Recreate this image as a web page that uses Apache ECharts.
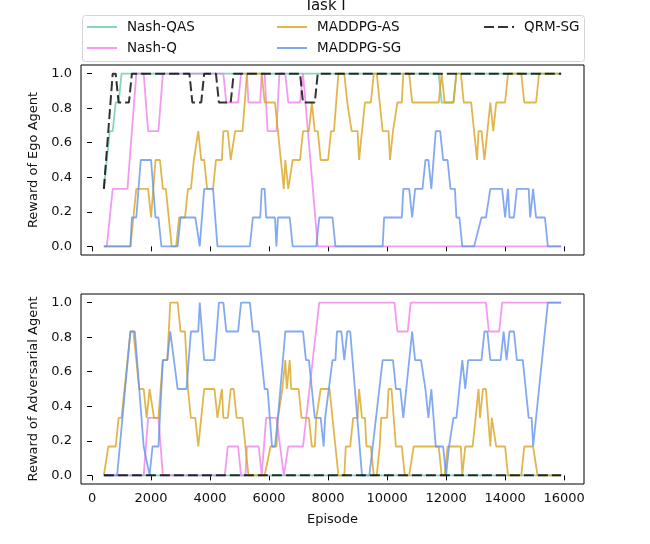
<!DOCTYPE html>
<html>
<head>
<meta charset="utf-8">
<script src="https://cdn.jsdelivr.net/npm/echarts@6/dist/echarts.min.js"></script>
<style>
  html, body { margin: 0; padding: 0; background: #fff; }
  #chart { width: 650px; height: 544px; }
</style>
</head>
<body>
<div id="chart"></div>
<script>
// tick labels
const xTicks = [0, 2000, 4000, 6000, 8000, 10000, 12000, 14000, 16000];
const yTicks = [0, 0.2, 0.4, 0.6, 0.8, 1.0];
const seriesNames = ['Nash-QAS', 'Nash-Q', 'MADDPG-AS', 'MADDPG-SG', 'QRM-SG'];

// [episode, reward] vertices -- Ego agent (top)
const egoNashQAS = [[400,0.333],[500,0.5],[600,0.667],[700,0.667],[800,0.833],[900,0.833],[1000,1],[11750,1],[11850,0.833],[12250,0.833],[12350,1],[15900,1]];
const egoNashQ = [[400,0],[500,0],[700,0.333],[1200,0.333],[1500,1],[1750,1],[1900,0.667],[2250,0.667],[2400,1],[4450,1],[4550,0.833],[4950,0.833],[5050,1],[5250,1],[5300,0.833],[5700,0.833],[5750,1],[5850,1],[5950,0.667],[6250,0.667],[6350,1],[6550,1],[6650,0.833],[7050,0.833],[7150,1],[7200,1],[7650,0],[15900,0]];
const egoMaddpgAS = [[400,0],[1300,0],[1400,0.167],[1500,0.333],[1900,0.333],[2000,0.167],[2150,0.5],[2300,0.5],[2400,0.333],[2500,0.333],[2700,0],[2850,0],[2950,0.167],[3150,0.167],[3250,0.333],[3350,0.333],[3450,0.5],[3500,0.5],[3600,0.667],[3700,0.5],[3800,0.5],[3900,0.333],[4100,0.333],[4200,0.5],[4400,0.5],[4450,0.667],[4600,0.667],[4700,0.5],[4850,0.667],[5100,0.667],[5250,1],[5750,1],[5850,0.833],[6200,0.833],[6300,0.667],[6500,0.333],[6550,0.5],[6650,0.333],[6800,0.5],[7050,0.5],[7150,0.667],[7350,0.667],[7450,0.833],[7550,0.667],[7650,0.667],[7750,0.5],[8000,0.5],[8100,0.667],[8200,0.667],[8350,1],[8550,1],[8650,0.833],[8700,0.833],[8800,0.667],[9000,0.667],[9050,0.5],[9150,0.667],[9250,0.833],[9450,0.833],[9550,1],[9650,1],[9750,0.833],[9850,0.667],[10050,0.667],[10100,0.5],[10200,0.667],[10350,0.833],[10500,0.833],[10550,1],[10750,1],[10850,0.833],[11750,0.833],[11850,1],[11900,1],[11950,0.833],[12250,0.833],[12350,1],[12500,1],[12600,0.833],[12850,0.833],[12950,0.667],[13050,0.5],[13100,0.667],[13200,0.667],[13300,0.5],[13400,0.667],[13500,0.833],[13600,0.667],[13700,0.833],[14000,0.833],[14100,1],[14550,1],[14650,0.833],[15050,0.833],[15150,1],[15900,1]];
const egoMaddpgSG = [[400,0],[1300,0],[1350,0.167],[1500,0.167],[1650,0.5],[2000,0.5],[2150,0.167],[2250,0.167],[2350,0],[2900,0],[3000,0.167],[3500,0.167],[3650,0],[3800,0.333],[4100,0.333],[4250,0],[5350,0],[5450,0.167],[5700,0.167],[5750,0.333],[5850,0.333],[5900,0.167],[6200,0.167],[6250,0],[6300,0.167],[6700,0.167],[6800,0],[7600,0],[7700,0.167],[8150,0.167],[8250,0],[9850,0],[9900,0.167],[10500,0.167],[10550,0.333],[10750,0.333],[10850,0.167],[10950,0.333],[11200,0.333],[11300,0.5],[11400,0.5],[11500,0.333],[11650,0.667],[11800,0.667],[11900,0.5],[12050,0.5],[12150,0.333],[12300,0.333],[12350,0.167],[12450,0.167],[12550,0],[12950,0],[13200,0.167],[13350,0.167],[13500,0.333],[13900,0.333],[14000,0.167],[14100,0.333],[14150,0.167],[14300,0.167],[14400,0.333],[14800,0.333],[14850,0.167],[14950,0.333],[15050,0.167],[15350,0.167],[15450,0],[15900,0]];
const egoQrmSG = [[400,0.333],[700,1],[800,1],[900,0.833],[1250,0.833],[1350,1],[3300,1],[3400,0.833],[3700,0.833],[3800,1],[4200,1],[4300,0.833],[4700,0.833],[4800,1],[7050,1],[7150,0.833],[7550,0.833],[7650,1],[15900,1]];

// Adversarial agent (bottom)
const advNashQAS = [[400,0],[15900,0]];
const advNashQ = [[400,0],[1750,0],[1900,0.333],[2250,0.333],[2400,0],[4500,0],[4600,0.167],[4950,0.167],[5050,0],[5200,0],[5250,0.167],[5650,0.167],[5750,0],[5900,0.333],[6250,0.333],[6500,0],[6650,0.167],[7150,0.167],[7700,1],[10250,1],[10350,0.833],[10700,0.833],[10800,1],[13350,1],[13450,0.833],[13800,0.833],[13900,1],[15900,1]];
const advMaddpgAS = [[400,0],[450,0],[550,0.167],[800,0.167],[900,0.333],[1000,0.333],[1300,0.833],[1400,0.833],[1600,0.5],[1750,0.5],[1850,0.333],[1950,0.5],[2000,0.5],[2100,0.333],[2250,0.333],[2400,0.667],[2550,0.667],[2650,1],[2900,1],[3000,0.833],[3150,0.833],[3250,0.5],[3350,0.333],[3500,0.333],[3600,0.167],[3700,0.333],[3800,0.5],[4150,0.5],[4250,0.333],[4300,0.333],[4400,0.5],[4450,0.333],[4600,0.333],[4700,0.5],[4800,0.5],[4900,0.333],[5100,0.333],[5300,0],[5850,0],[6050,0.167],[6250,0.167],[6300,0.333],[6450,0.5],[6550,0.667],[6600,0.5],[6700,0.667],[6750,0.5],[7000,0.5],[7100,0.333],[7350,0.333],[7450,0.167],[7550,0.167],[7600,0.333],[7750,0.5],[8050,0.5],[8150,0.333],[8250,0.167],[8350,0],[8550,0],[8600,0.167],[8750,0.167],[8850,0.333],[9000,0.333],[9050,0.5],[9150,0.333],[9250,0.333],[9300,0.167],[9450,0.167],[9550,0],[9650,0],[9750,0.167],[9800,0.333],[10000,0.333],[10050,0.5],[10150,0.5],[10300,0.167],[10500,0.167],[10600,0],[10750,0],[10900,0.167],[11750,0.167],[11850,0],[11950,0],[12050,0.167],[12500,0.167],[12550,0],[12650,0.167],[12900,0.167],[13000,0.333],[13100,0.5],[13150,0.333],[13250,0.5],[13350,0.5],[13500,0.167],[13550,0.333],[13600,0.333],[13700,0.167],[14000,0.167],[14100,0],[14550,0],[14650,0.167],[14950,0.167],[15100,0],[15900,0]];
const advMaddpgSG = [[400,0],[850,0],[1300,0.833],[1450,0.833],[1750,0.167],[1950,0],[2050,0.167],[2250,0.167],[2400,0.667],[2550,0.667],[2650,0.833],[2700,0.833],[2900,0.5],[3200,0.5],[3350,0.833],[3600,0.833],[3650,1],[3800,0.667],[4150,0.667],[4300,1],[4450,1],[4550,0.833],[4950,0.833],[5050,1],[5350,1],[5450,0.833],[5650,0.833],[5850,0.5],[5950,0.5],[6100,0.167],[6200,0.167],[6300,0.333],[6550,0.833],[7150,0.833],[7250,0.667],[7350,0.667],[7450,0.5],[7550,0.333],[7750,0.333],[7850,0.167],[7900,0.333],[8150,0.667],[8250,0.667],[8300,0.833],[8450,0.833],[8550,0.667],[8650,0.833],[8750,0.833],[9150,0],[9400,0],[9850,0.667],[10200,0.667],[10300,0.5],[10450,0.5],[10550,0.333],[10650,0.5],[10700,0.5],[10850,0.833],[10950,0.667],[11150,0.667],[11300,0.5],[11400,0.333],[11500,0.5],[11650,0.167],[11900,0.167],[12000,0],[12100,0.167],[12250,0.333],[12350,0.333],[12550,0.667],[12650,0.5],[12750,0.667],[13200,0.667],[13300,0.833],[13400,0.833],[13500,0.667],[13850,0.667],[13950,0.833],[14050,0.667],[14150,0.833],[14300,0.833],[14400,0.667],[14600,0.667],[14800,0.333],[14900,0.333],[14950,0.167],[15050,0.333],[15100,0.333],[15450,1],[15900,1]];
const advQrmSG = [[400,0],[15900,0]];

const colors = {
  'Nash-QAS': 'rgba(102,205,170,0.8)',
  'Nash-Q': 'rgba(238,130,238,0.8)',
  'MADDPG-AS': 'rgba(218,165,32,0.8)',
  'MADDPG-SG': 'rgba(100,149,237,0.8)',
  'QRM-SG': 'rgba(0,0,0,0.8)'
};

const FONT = 'DejaVu Sans';
const chart = echarts.init(document.getElementById('chart'), null, { renderer: 'canvas' });

function makeSeries(name, data, idx) {
  const dashed = name === 'QRM-SG';
  return {
    name: name,
    type: 'line',
    xAxisIndex: idx,
    yAxisIndex: idx,
    data: data,
    showSymbol: false,
    symbol: 'none',
    silent: true,
    lineStyle: {
      color: colors[name],
      width: dashed ? 2 : 1.8,
      type: dashed ? [10, 4] : 'solid'
    },
    itemStyle: { color: colors[name] }
  };
}

function xAxis(idx, showLabel) {
  return {
    type: 'value',
    gridIndex: idx,
    min: -375,
    max: 16675,
    axisLine: { show: false },
    splitLine: { show: false },
    axisTick: { show: true, customValues: xTicks, length: 5, lineStyle: { color: '#000' } },
    axisLabel: {
      show: showLabel, customValues: xTicks, margin: 8,
      color: '#111', fontFamily: FONT, fontSize: 13,
      formatter: v => String(v)
    },
    name: showLabel ? 'Episode' : '',
    nameLocation: 'middle',
    nameGap: 29,
    nameTextStyle: { color: '#111', fontFamily: FONT, fontSize: 13 }
  };
}

function yAxis(idx, name) {
  return {
    type: 'value',
    gridIndex: idx,
    min: -0.05,
    max: 1.05,
    axisLine: { show: false },
    splitLine: { show: false },
    axisTick: { show: true, customValues: yTicks, length: 5, lineStyle: { color: '#000' } },
    axisLabel: {
      customValues: yTicks, margin: 9,
      color: '#111', fontFamily: FONT, fontSize: 13,
      formatter: v => v.toFixed(1)
    },
    name: name,
    nameLocation: 'middle',
    nameGap: 40,
    nameTextStyle: { color: '#111', fontFamily: FONT, fontSize: 13 }
  };
}

// legend: 3 columns x 2 rows, like the matplotlib box
const legendSlots = [
  { name: 'Nash-QAS', left: 86, top: 20 },
  { name: 'Nash-Q', left: 86, top: 41 },
  { name: 'MADDPG-AS', left: 276, top: 20 },
  { name: 'MADDPG-SG', left: 276, top: 41 },
  { name: 'QRM-SG', left: 483, top: 20 }
];

const option = {
  animation: false,
  backgroundColor: '#fff',
  title: {
    text: 'Task I',
    left: 'center',
    top: -2,
    padding: 0,
    textStyle: { color: '#111', fontFamily: FONT, fontSize: 15, fontWeight: 'normal', lineHeight: 16 }
  },
  graphic: [{
    type: 'rect',
    left: 82, top: 15,
    shape: { width: 502, height: 46, r: 3 },
    style: { fill: '#fff', stroke: '#d4d4d4', lineWidth: 1 },
    z: -1
  }],
  legend: legendSlots.map(s => ({
    data: [s.name],
    left: s.left,
    top: s.top,
    padding: 0,
    itemWidth: 30,
    itemHeight: 14,
    selectedMode: false,
    itemStyle: { opacity: 0, borderWidth: 0 },
    textStyle: { color: '#111', fontFamily: FONT, fontSize: 13.5, lineHeight: 14, padding: [0, 0, 0, 5] }
  })),
  grid: [
    { left: 81, top: 65, width: 503, height: 190, show: true, borderColor: '#000', borderWidth: 1, backgroundColor: 'transparent' },
    { left: 81, top: 294, width: 503, height: 190, show: true, borderColor: '#000', borderWidth: 1, backgroundColor: 'transparent' }
  ],
  xAxis: [xAxis(0, false), xAxis(1, true)],
  yAxis: [yAxis(0, 'Reward of Ego Agent'), yAxis(1, 'Reward of Adversarial Agent')],
  series: [
    makeSeries('Nash-QAS', egoNashQAS, 0),
    makeSeries('Nash-Q', egoNashQ, 0),
    makeSeries('MADDPG-AS', egoMaddpgAS, 0),
    makeSeries('MADDPG-SG', egoMaddpgSG, 0),
    makeSeries('QRM-SG', egoQrmSG, 0),
    makeSeries('Nash-QAS', advNashQAS, 1),
    makeSeries('Nash-Q', advNashQ, 1),
    makeSeries('MADDPG-AS', advMaddpgAS, 1),
    makeSeries('MADDPG-SG', advMaddpgSG, 1),
    makeSeries('QRM-SG', advQrmSG, 1)
  ]
};

chart.setOption(option);
</script>
</body>
</html>
